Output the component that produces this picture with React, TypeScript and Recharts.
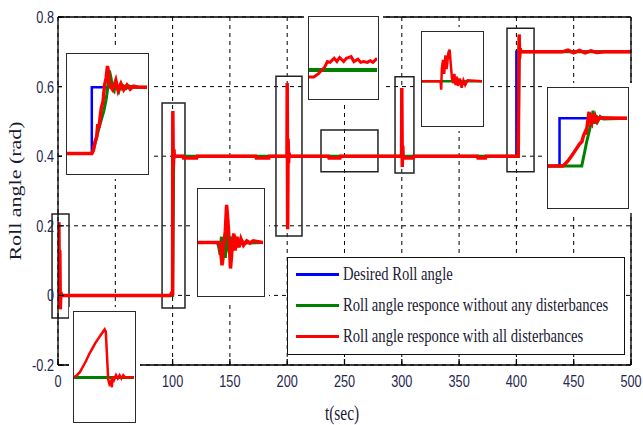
import React from "react";
import { LineChart, Line, XAxis, YAxis, CartesianGrid, ReferenceArea } from "recharts";

const BLUE = "#0000ff";
const GREEN = "#008000";
const RED = "#ff0000";
const TICK_COLOR = "#262650";
const TEXT_COLOR = "#1a1a33";

// main figure
const xTicks = [0, 50, 100, 150, 200, 250, 300, 350, 400, 450, 500];
const yTicks = [-0.2, 0, 0.2, 0.4, 0.6, 0.8];

const desiredT = [0, 100, 100, 400, 400, 500];
const desiredV = [0, 0, 0.4, 0.4, 0.7, 0.7];

const noDistT = [0, 100, 100.5, 101, 101.5, 102, 401.5, 402, 402.5, 403, 500];
const noDistV = [0, 0, 0.2, 0.42, 0.395, 0.4, 0.4, 0.55, 0.72, 0.7, 0.7];

const allDistT = [
  0, 0.4, 0.8, 1.2, 1.6, 2, 2.5, 3, 50, 98, 99, 100, 100.2, 100.6, 101, 101.5,
  109, 109.5, 121, 121.5, 172.5, 173, 184, 184.5, 199.8, 200, 200.4, 200.8, 201.2, 201.6, 202,
  236, 236.5, 246, 246.5, 299.8, 300, 300.4, 300.8, 301.2, 310, 310.5, 366, 366.5, 373, 373.5,
  401.6, 402, 402.4, 402.8, 403.3, 404, 440, 445, 450, 455, 460, 465, 470, 477, 500,
];
const allDistV = [
  0, 0.14, 0.21, -0.02, 0.13, -0.04, 0.01, 0, 0, 0, 0.006, 0, 0.53, 0.37, 0.42, 0.4,
  0.4, 0.395, 0.395, 0.4, 0.4, 0.395, 0.395, 0.4, 0.4, 0.61, 0.19, 0.45, 0.38, 0.41, 0.4,
  0.4, 0.395, 0.395, 0.4, 0.4, 0.596, 0.369, 0.43, 0.395, 0.395, 0.4, 0.4, 0.395, 0.395, 0.4,
  0.4, 0.6, 0.75, 0.68, 0.71, 0.7, 0.7, 0.705, 0.697, 0.704, 0.697, 0.703, 0.698, 0.7, 0.7,
];

// zoom boxes drawn on the main axes (t from..to, value from..to)
const boxT1 = [-5.2, 90.8, 190.2, 229.5, 294.1, 391.8];
const boxT2 = [9.6, 110.8, 212.9, 279.2, 310.6, 415.4];
const boxV1 = [-0.065, -0.036, 0.171, 0.355, 0.352, 0.355];
const boxV2 = [0.234, 0.553, 0.63, 0.475, 0.628, 0.768];

// insets, in percent of the inset frame
const aBlueT = [0, 31, 31, 100];
const aBlueV = [16.4, 16.4, 72, 72];
const aGreenT = [0, 31, 34, 37, 40, 43, 46, 49, 51, 53, 55, 57, 59, 61, 63, 65, 67, 69, 71, 74, 78, 84, 100];
const aGreenV = [16.4, 16.4, 22, 30, 38, 45, 52, 62, 72, 86, 80, 71, 69, 76, 72, 69, 74, 71, 73, 71, 73, 72, 72];
const aRedT = [0, 31, 33, 35, 37, 38.5, 40, 42, 43, 45, 47, 49, 50.6, 52, 53, 55, 57, 59, 61, 64, 67.5, 71, 75, 79, 83, 89, 100];
const aRedV = [16.4, 16.4, 19, 26, 30, 41, 38, 50, 55, 60, 74, 80, 90, 84, 74, 72, 70, 74, 78, 69, 75, 70, 74, 70.5, 73, 72, 72];

const bBlueT = [0, 100];
const bBlueV = [49.5, 49.5];
const bGreenT = [0, 30, 32, 34, 36, 38, 40, 42, 45, 48, 51, 54, 58, 62, 67, 72, 100];
const bGreenV = [49.5, 49.5, 45, 38, 55, 30, 50, 35, 60, 40, 55, 44, 53, 47, 51, 49, 49.5];
const bRedT = [0, 33, 35, 37, 39, 42, 44, 46, 48, 50, 52, 55, 57, 60, 63, 66, 70, 75, 80, 85, 100];
const bRedV = [49.5, 49.5, 40, 28, 45, 60, 85, 70, 50, 25, 40, 58, 42, 55, 45, 53, 47, 51, 49, 51, 49.5];

const cGreenT = [0, 100];
const cGreenV = [34.5, 34.5];
const cRedT = [0, 7, 14, 17, 23, 27, 31, 37, 41, 45, 51, 55, 62, 66, 72, 76, 80, 86, 90, 94, 100];
const cRedV = [26, 26, 30, 33, 38, 45, 44, 49, 45, 50, 45, 49, 51, 45, 48, 44, 45, 44, 46, 44, 49];

const dGreenT = [0, 100];
const dGreenV = [47, 47];
const dRedT = [0, 31, 32, 33, 35, 37, 39, 41, 44, 46, 48, 50, 52, 54, 56, 58, 60, 63, 66, 69, 72, 76, 100];
const dRedV = [47, 47, 38, 60, 70, 55, 75, 60, 78, 81, 65, 50, 45, 55, 43, 52, 42, 50, 40, 48, 43, 48, 47];

const eBlueT = [0, 14.6, 14.6, 100];
const eBlueV = [34.4, 34.4, 74.6, 74.6];
const eGreenT = [0, 42.7, 46, 49, 52, 55, 57, 59, 61, 63, 66, 70, 100];
const eGreenV = [34.4, 34.4, 45, 55, 63, 72, 81, 70, 77, 72, 76, 74, 74.6];
const eRedT = [0, 19, 25, 30, 35, 40, 43, 45, 47, 48, 50, 52, 53, 55, 56, 58, 60, 62, 65, 100];
const eRedV = [34.4, 34.4, 38.5, 43, 48, 53, 55, 60, 63, 61, 70, 80, 72, 70, 78, 71, 76, 72, 75, 74.6];

const fGreenT = [0, 100];
const fGreenV = [40, 40];
const fRedT = [0, 5, 10, 15, 20, 25, 30, 35, 41, 46, 51, 53, 55, 57, 59, 61, 63, 65, 67, 70, 73, 76, 79, 82, 85, 100];
const fRedV = [40, 42, 45, 50, 55, 61, 66, 71, 76, 80, 84, 82, 60, 38, 34, 36, 31, 41, 38, 42, 39, 42, 39, 42, 40, 40];

const legendNames = [
  "Desired Roll angle",
  "Roll angle responce without any disterbances",
  "Roll angle responce with all disterbances",
];

const zip = (t: number[], v: number[]) => t.map((x, i) => ({ t: x, v: v[i] }));

const XTick = (props: any) => {
  const { x, y, payload } = props;
  return (
    <g transform={`translate(${x},${y}) scale(0.77,1)`}>
      <text textAnchor="middle" fontFamily="'Liberation Sans', Arial, sans-serif" fontSize={16.5} fill={TICK_COLOR}>
        {payload.value}
      </text>
    </g>
  );
};

const YTick = (props: any) => {
  const { x, y, payload } = props;
  return (
    <g transform={`translate(${x},${y}) scale(0.77,1)`}>
      <text textAnchor="end" dy="0.36em" fontFamily="'Liberation Sans', Arial, sans-serif" fontSize={16.5} fill={TICK_COLOR}>
        {payload.value}
      </text>
    </g>
  );
};

type InsetLine = { t: number[]; v: number[]; color: string; w: number };

function Inset({ left, top, width, height, lines }: { left: number; top: number; width: number; height: number; lines: InsetLine[] }) {
  return (
    <div style={{ position: "absolute", left: left - 4, top: top - 4, padding: 4, background: "#fff" }}>
      <div style={{ width, height, boxSizing: "border-box", border: "1.5px solid #2a2a2a", background: "#fff" }}>
        <LineChart width={width - 3} height={height - 3} margin={{ top: 0, right: 0, bottom: 0, left: 0 }}>
          <XAxis type="number" dataKey="t" domain={[0, 100]} allowDataOverflow hide />
          <YAxis type="number" domain={[0, 100]} allowDataOverflow hide />
          {lines.map((l, i) => (
            <Line
              key={i}
              data={zip(l.t, l.v)}
              dataKey="v"
              stroke={l.color}
              strokeWidth={l.w}
              dot={false}
              isAnimationActive={false}
            />
          ))}
        </LineChart>
      </div>
    </div>
  );
}

export default function App() {
  const colors = [BLUE, GREEN, RED];
  return (
    <div style={{ position: "absolute", left: 0, top: 0, width: 643, height: 425, background: "#fff" }}>
      <LineChart width={643} height={425} margin={{ top: 16, right: 11, bottom: 20, left: 8 }}>
        <CartesianGrid stroke="#000" strokeDasharray="4 4" />
        <XAxis
          type="number"
          dataKey="t"
          domain={[0, 500]}
          ticks={xTicks}
          allowDataOverflow
          height={40}
          tickSize={-6}
          tickMargin={28}
          tick={<XTick />}
          axisLine={{ stroke: "#000", strokeWidth: 1.3 }}
          tickLine={{ stroke: "#000", strokeWidth: 1.3 }}
          label={() => (
            <g transform="translate(342,420) scale(0.77,1)">
              <text textAnchor="middle" fontFamily="'Liberation Serif', 'Times New Roman', serif" fontSize={20} fill={TEXT_COLOR}>
                t(sec)
              </text>
            </g>
          )}
        />
        <XAxis
          xAxisId="top"
          orientation="top"
          type="number"
          domain={[0, 500]}
          ticks={xTicks}
          allowDataOverflow
          height={1}
          tickSize={-6}
          tick={false}
          axisLine={{ stroke: "#000", strokeWidth: 1.3 }}
          tickLine={{ stroke: "#000", strokeWidth: 1.3 }}
        />
        <YAxis
          type="number"
          domain={[-0.2, 0.8]}
          ticks={yTicks}
          allowDataOverflow
          width={50}
          tickSize={-6}
          tickMargin={10}
          tick={<YTick />}
          axisLine={{ stroke: "#000", strokeWidth: 1.3 }}
          tickLine={{ stroke: "#000", strokeWidth: 1.3 }}
          label={() => (
            <g transform="translate(20.5,191) scale(0.78,1) rotate(-90)">
              <text textAnchor="middle" fontFamily="'Liberation Serif', 'Times New Roman', serif" fontSize={22} fill={TEXT_COLOR}>
                Roll angle (rad)
              </text>
            </g>
          )}
        />
        <YAxis
          yAxisId="right"
          orientation="right"
          type="number"
          domain={[-0.2, 0.8]}
          ticks={yTicks}
          allowDataOverflow
          width={1}
          tickSize={-6}
          tick={false}
          axisLine={{ stroke: "#000", strokeWidth: 1.3 }}
          tickLine={{ stroke: "#000", strokeWidth: 1.3 }}
        />
        <Line data={zip(desiredT, desiredV)} dataKey="v" stroke={BLUE} strokeWidth={2.5} dot={false} isAnimationActive={false} />
        <Line data={zip(noDistT, noDistV)} dataKey="v" stroke={GREEN} strokeWidth={3} dot={false} isAnimationActive={false} />
        <Line data={zip(allDistT, allDistV)} dataKey="v" stroke={RED} strokeWidth={3.5} dot={false} isAnimationActive={false} />
        {boxT1.map((t1, i) => (
          <ReferenceArea
            key={i}
            x1={t1}
            x2={boxT2[i]}
            y1={boxV1[i]}
            y2={boxV2[i]}
            fill="none"
            stroke="#222"
            strokeWidth={1.5}
            ifOverflow="visible"
          />
        ))}
      </LineChart>

      <Inset left={66} top={53} width={83} height={122} lines={[
        { t: aBlueT, v: aBlueV, color: BLUE, w: 2.5 },
        { t: aGreenT, v: aGreenV, color: GREEN, w: 3 },
        { t: aRedT, v: aRedV, color: RED, w: 3.5 },
      ]} />
      <Inset left={197} top={188} width={68} height={109} lines={[
        { t: bBlueT, v: bBlueV, color: BLUE, w: 2.5 },
        { t: bGreenT, v: bGreenV, color: GREEN, w: 3 },
        { t: bRedT, v: bRedV, color: RED, w: 3.5 },
      ]} />
      <Inset left={308} top={16} width={71} height={84} lines={[
        { t: cGreenT, v: cGreenV, color: GREEN, w: 4 },
        { t: cRedT, v: cRedV, color: RED, w: 3 },
      ]} />
      <Inset left={421} top={31} width={63} height={96} lines={[
        { t: dGreenT, v: dGreenV, color: GREEN, w: 2.5 },
        { t: dRedT, v: dRedV, color: RED, w: 2.5 },
      ]} />
      <Inset left={547} top={87} width={82} height={122} lines={[
        { t: eBlueT, v: eBlueV, color: BLUE, w: 2.5 },
        { t: eGreenT, v: eGreenV, color: GREEN, w: 3 },
        { t: eRedT, v: eRedV, color: RED, w: 3.5 },
      ]} />
      <Inset left={73} top={311} width={63} height={112} lines={[
        { t: fGreenT, v: fGreenV, color: GREEN, w: 3 },
        { t: fRedT, v: fRedV, color: RED, w: 2.5 },
      ]} />

      <div style={{ position: "absolute", left: 287, top: 257, width: 338, height: 98, boxSizing: "border-box", border: "1.5px solid #111", background: "#fff" }}>
        {legendNames.map((name, i) => (
          <div key={name} style={{ position: "absolute", left: 8, top: 16 + i * 31 - 12, height: 24, display: "flex", alignItems: "center" }}>
            <div style={{ width: 43, height: 3, background: colors[i] }} />
            <span
              style={{
                marginLeft: 4,
                display: "inline-block",
                whiteSpace: "nowrap",
                fontFamily: "'Liberation Serif', 'Times New Roman', serif",
                fontSize: 19,
                color: TEXT_COLOR,
                transform: "scaleX(0.77)",
                transformOrigin: "left center",
              }}
            >
              {name}
            </span>
          </div>
        ))}
      </div>
    </div>
  );
}
